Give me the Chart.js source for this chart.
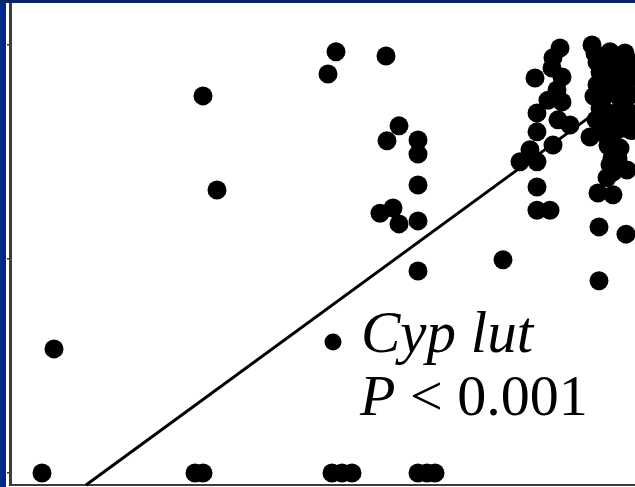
<!DOCTYPE html>
<html>
<head>
<meta charset="utf-8">
<script src="https://cdn.jsdelivr.net/npm/chart.js@4"></script>
<style>
  html, body { margin: 0; padding: 0; width: 635px; height: 487px; overflow: hidden; background: #002a8a; }
  #topband { position: absolute; left: 0; top: 0; width: 635px; height: 3px; background: #0a2266; }
  #wrap { position: absolute; left: 6px; top: 3px; width: 629px; height: 484px; background: #ffffff; }
  canvas { display: block; }
</style>
</head>
<body>
<div id="topband"></div>
<div id="wrap"><canvas id="c" width="629" height="484"></canvas></div>
<script>
// Scatter points (x, y %)
const xValues = [
  6.4, 8.8, 37, 38.6, 38.6, 41.4, 64.4, 66.4, 68.4, 81.6, 83.4, 85,
  65.2, 63.6, 75.2, 77.8, 75.4, 81.6, 81.6, 81.6, 74, 76.6, 77.8, 81.6, 81.6,
  98.6, 117.8,
  110, 108.6, 108.4, 105, 110.4, 109.4, 107.6, 110.4, 105.4, 109.6, 112, 105.4, 108.6, 104, 116,
  102, 105.4, 105.4, 105.4, 108,
  116.4, 120, 123, 117.4, 121.4, 124, 118, 122, 117.4, 120.6, 123.6, 118.6, 122, 124,
  118, 121.4, 120, 123, 120.6, 122, 120.4, 120, 120.6, 123.4, 117.6, 120.6, 117.8, 123.2,
  117.0, 119.0, 122.5, 119.5, 124.0, 116.8, 119.4, 121.6, 123.0, 117.2, 119.0, 122.8, 124.4,
  118.6, 122.2, 124.2, 119.6, 121.6, 119.4
];
const yValues = [
  0, 29.0, 0, 0, 88.1, 66.1, 0, 0, 0, 0, 0, 0,
  98.4, 93.2, 97.4, 81.1, 77.6, 77.8, 74.5, 67.3, 60.7, 61.9, 58.2, 58.9, 47.2,
  49.8, 44.9,
  99.3, 97.0, 94.6, 92.3, 92.5, 89.5, 87.1, 86.7, 84.1, 82.5, 81.3, 79.7, 76.6, 75.5, 78.5,
  72.7, 72.7, 66.8, 61.4, 61.4,
  100, 98.4, 98.1, 96.0, 95.3, 96.0, 93.7, 93.0, 90.7, 90.7, 91.8, 87.6, 87.6, 88.3,
  85.3, 84.3, 82.0, 82.9, 79.0, 75.9, 73.6, 72.0, 70.3, 70.8, 65.4, 65.0, 57.5, 55.8,
  98.0, 97.0, 97.5, 93.5, 93.5, 88.0, 89.0, 90.0, 89.5, 82.5, 84.5, 85.5, 84.0,
  79.5, 80.5, 80.0, 76.5, 73.5, 69.0
];
// Regression line end points
const lineX = [15.2, 117.6];
const lineY = [-2.8, 84.6];
// Axis settings
const xRange = [0, 125];
const yRange = [-2.8, 109.8];
const yTicks = [0, 50, 100];
const labelSpecies = "Cyp lut";
const labelP = "P";
const labelPRest = " < 0.001";

const pts = xValues.map((x, i) => ({ x: x, y: yValues[i] }));
const linePts = lineX.map((x, i) => ({ x: x, y: lineY[i] }));

const textPlugin = {
  id: 'annot',
  afterDraw(chart) {
    const ctx = chart.ctx;
    ctx.save();
    // legend marker
    ctx.fillStyle = '#000';
    ctx.beginPath();
    ctx.arc(327, 339, 8.5, 0, Math.PI * 2);
    ctx.fill();
    ctx.textBaseline = 'alphabetic';
    ctx.textAlign = 'left';
    ctx.font = 'italic 59px "Liberation Serif", "Times New Roman", serif';
    ctx.fillText(labelSpecies, 355, 349);
    ctx.font = 'italic 58px "Liberation Serif", "Times New Roman", serif';
    ctx.fillText(labelP, 354, 412);
    const w = ctx.measureText(labelP).width;
    ctx.font = '58px "Liberation Serif", "Times New Roman", serif';
    ctx.fillText(labelPRest, 354 + w, 412);
    ctx.restore();
  }
};

new Chart(document.getElementById('c'), {
  type: 'scatter',
  data: {
    datasets: [
      {
        label: 'points',
        data: pts,
        pointRadius: 9.5,
        pointHoverRadius: 9.5,
        backgroundColor: '#000',
        borderWidth: 0,
        clip: false,
        order: 1
      },
      {
        type: 'line',
        label: 'fit',
        data: linePts,
        borderColor: '#000',
        borderWidth: 3,
        pointRadius: 0,
        fill: false,
        clip: false,
        order: 2
      }
    ]
  },
  options: {
    responsive: false,
    animation: false,
    devicePixelRatio: 1,
    layout: { padding: 0, autoPadding: false },
    plugins: { legend: { display: false }, tooltip: { enabled: false } },
    scales: {
      x: {
        type: 'linear',
        min: xRange[0], max: xRange[1],
        ticks: { display: false },
        grid: { drawOnChartArea: false, drawTicks: false },
        border: { display: true, color: '#3c3c3c', width: 2 },
        afterFit(s) { s.height = 2; }
      },
      y: {
        type: 'linear',
        min: yRange[0], max: yRange[1],
        ticks: { display: false },
        grid: { drawOnChartArea: false, drawTicks: true, tickLength: 3, color: '#333', lineWidth: 1.5 },
        border: { display: true, color: '#3c3c3c', width: 3 },
        afterBuildTicks(s) { s.ticks = yTicks.map(v => ({ value: v })); },
        afterFit(s) { s.width = 4; }
      }
    }
  },
  plugins: [textPlugin]
});
</script>
</body>
</html>
